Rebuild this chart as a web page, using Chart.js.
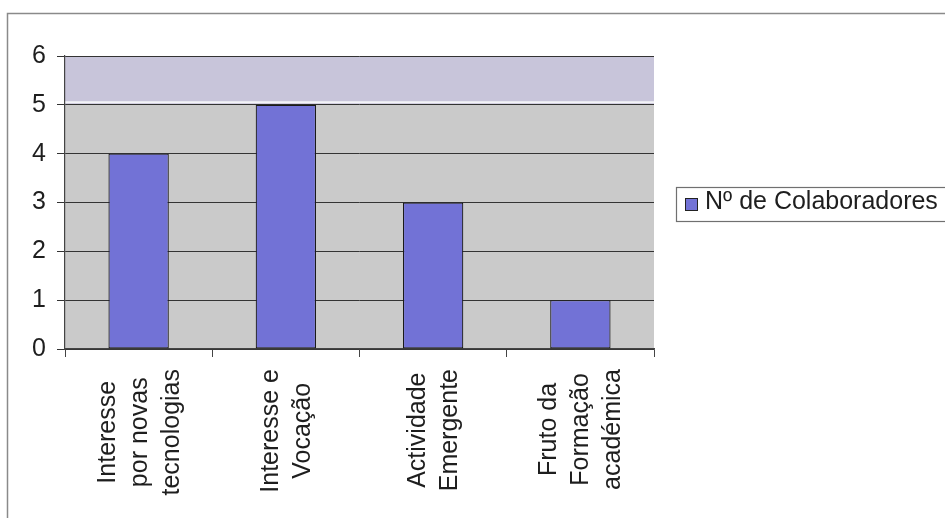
<!DOCTYPE html>
<html>
<head>
<meta charset="utf-8">
<script src="https://cdn.jsdelivr.net/npm/chart.js@4/dist/chart.umd.min.js"></script>
<style>
html,body{margin:0;padding:0;background:#fff;}
#wrap{width:945px;height:518px;position:relative;}
</style>
</head>
<body>
<div id="wrap"><canvas id="c" width="945" height="518"></canvas></div>
<script>
const categories = [
  ["Interesse", "por novas", "tecnologias"],
  ["Interesse e", "Vocação"],
  ["Actividade", "Emergente"],
  ["Fruto da", "Formação", "académica"]
];
const seriesName = "Nº de Colaboradores";
const values = [4, 5, 3, 1];
const yTicks = [0, 1, 2, 3, 4, 5, 6];

const FONT = '"Liberation Sans", Arial, sans-serif';
const BAR = '#7272d6';

const framePlugin = {
  id: 'frame',
  beforeDraw(chart) {
    const ctx = chart.ctx;
    const {left, right, top, bottom} = chart.chartArea;
    const y = chart.scales.y;
    ctx.save();
    ctx.fillStyle = '#fff';
    ctx.fillRect(0, 0, chart.width, chart.height);
    ctx.strokeStyle = '#8a8a8a';
    ctx.lineWidth = 1.5;
    ctx.strokeRect(7.5, 13.5, 1200, 1200);
    ctx.fillStyle = '#cacaca';
    ctx.fillRect(left, top, right - left, bottom - top);
    const y5 = y.getPixelForValue(5), y6 = y.getPixelForValue(6);
    ctx.fillStyle = '#c8c5da';
    ctx.fillRect(left, y6, right - left, y5 - y6);
    ctx.strokeStyle = '#f4f4f8';
    ctx.lineWidth = 2;
    ctx.beginPath();
    ctx.moveTo(left, y5 - 2.5);
    ctx.lineTo(right, y5 - 2.5);
    ctx.stroke();
    ctx.restore();
  },
  afterDraw(chart) {
    const ctx = chart.ctx;
    const xs = chart.scales.x;
    const bottom = chart.chartArea.bottom;
    ctx.save();
    ctx.fillStyle = '#1e1e1e';
    ctx.font = '25px ' + FONT;
    ctx.textAlign = 'center';
    ctx.textBaseline = 'middle';
    const L = 32;
    categories.forEach((lines, i) => {
      const cx = xs.getPixelForValue(i);
      let maxW = 0;
      lines.forEach(l => { maxW = Math.max(maxW, ctx.measureText(l).width); });
      const cy = bottom + 20 + maxW / 2;
      lines.forEach((l, k) => {
        const off = (k - (lines.length - 1) / 2) * L;
        ctx.save();
        ctx.translate(cx + off + 1, cy);
        ctx.rotate(-Math.PI / 2);
        ctx.fillText(l, 0, 0);
        ctx.restore();
      });
    });
    // legend
    ctx.strokeStyle = '#707070';
    ctx.lineWidth = 1.2;
    ctx.strokeRect(676.5, 187.5, 400, 34);
    ctx.fillStyle = BAR;
    ctx.fillRect(685, 198, 12, 12);
    ctx.strokeStyle = '#222';
    ctx.lineWidth = 1;
    ctx.strokeRect(685.5, 198.5, 12, 12);
    ctx.fillStyle = '#1e1e1e';
    ctx.font = '25px ' + FONT;
    ctx.textAlign = 'left';
    ctx.textBaseline = 'middle';
    ctx.fillText(seriesName, 705, 202);
    ctx.restore();
  }
};

new Chart(document.getElementById('c'), {
  type: 'bar',
  data: {
    labels: categories,
    datasets: [{
      label: seriesName,
      data: values,
      backgroundColor: BAR,
      borderColor: '#1a1a1a',
      borderWidth: 1.2,
      borderSkipped: false,
      barPercentage: 0.41,
      categoryPercentage: 1
    }]
  },
  options: {
    responsive: false,
    animation: false,
    devicePixelRatio: 1,
    layout: { padding: { left: 0, top: 56, right: 291, bottom: 0 } },
    plugins: { legend: { display: false }, tooltip: { enabled: false } },
    scales: {
      x: {
        afterFit(s) { s.height = 169; },
        grid: { display: true, drawOnChartArea: false, drawTicks: true, tickLength: 8, offset: true, color: '#444', lineWidth: 1 },
        border: { display: true, color: '#444', width: 1.2 },
        ticks: { display: false }
      },
      y: {
        min: 0, max: 6,
        afterFit(s) { s.width = 65; },
        afterBuildTicks(s) { s.ticks = yTicks.map(v => ({ value: v })); },
        grid: { color: '#333', lineWidth: 1, drawTicks: true, tickLength: 8 },
        border: { display: true, color: '#444', width: 1.2 },
        ticks: { color: '#1e1e1e', font: { family: FONT, size: 25 }, padding: 11 }
      }
    }
  },
  plugins: [framePlugin]
});
</script>
</body>
</html>
